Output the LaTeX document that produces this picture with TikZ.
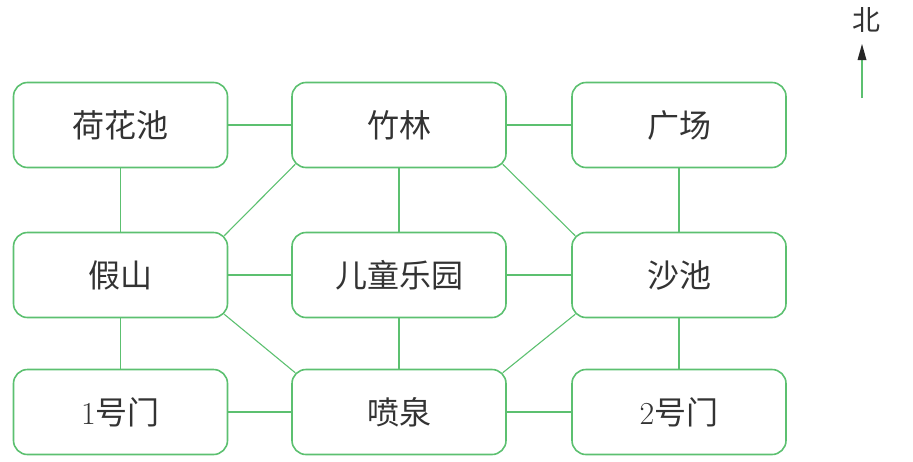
\documentclass[tikz,border=0pt]{standalone}
\usepackage{fontspec}
\newfontfamily\cjk{Noto Sans CJK SC}
\usetikzlibrary{calc,arrows.meta}
\definecolor{lg}{RGB}{92,192,112}
\begin{document}
\begin{tikzpicture}[x=1pt,y=-1pt,
  place/.style={draw=lg,line width=1.6pt,rounded corners=14pt,minimum width=214pt,minimum height=85pt,inner sep=0pt,font=\cjk\fontsize{32}{34}\selectfont,text=black!80},
  link/.style={draw=lg,line width=1.1pt}]
\useasboundingbox (0,0) rectangle (913,461);
\node[place] (hehua) at (120.5,125) {荷花池};
\node[place] (zhulin) at (399,125) {竹林};
\node[place] (guangchang) at (679,125) {广场};
\node[place] (jiashan) at (120.5,275) {假山};
\node[place] (ertong) at (399,275) {儿童乐园};
\node[place] (shachi) at (679,275) {沙池};
\node[place] (men1) at (120.5,412) {{\rmfamily 1}号门};
\node[place] (penquan) at (399,412) {喷泉};
\node[place] (men2) at (679,412) {{\rmfamily 2}号门};
\draw[link] (hehua) -- (zhulin);
\draw[link] (zhulin) -- (guangchang);
\draw[link] (jiashan) -- (ertong);
\draw[link] (ertong) -- (shachi);
\draw[link] (men1) -- (penquan);
\draw[link] (penquan) -- (men2);
\draw[link] (hehua) -- (jiashan);
\draw[link] (jiashan) -- (men1);
\draw[link] (zhulin) -- (ertong);
\draw[link] (ertong) -- (penquan);
\draw[link] (guangchang) -- (shachi);
\draw[link] (shachi) -- (men2);
\draw[link] ($(jiashan.north east)+(-4,4)$) -- ($(zhulin.south west)+(4,-4)$);
\draw[link] ($(shachi.north west)+(4,4)$) -- ($(zhulin.south east)+(-4,-4)$);
\draw[link] ($(jiashan.south east)+(-4,-4)$) -- ($(penquan.north west)+(4,4)$);
\draw[link] ($(shachi.south west)+(4,-4)$) -- ($(penquan.north east)+(-4,4)$);
\node[font=\cjk\fontsize{28}{30}\selectfont,text=black!80] (bei) at (866,20) {北};
\coordinate (tail) at (862,98);
\coordinate (tip) at (862,44);
\draw[draw=lg,line width=1.2pt] (tail) -- ($(tip)+(0,12)$);
\fill[black!85] (tip) -- ($(tip)+(-4.5,16)$) -- ($(tip)+(4.5,16)$) -- cycle;
\end{tikzpicture}
\end{document}
